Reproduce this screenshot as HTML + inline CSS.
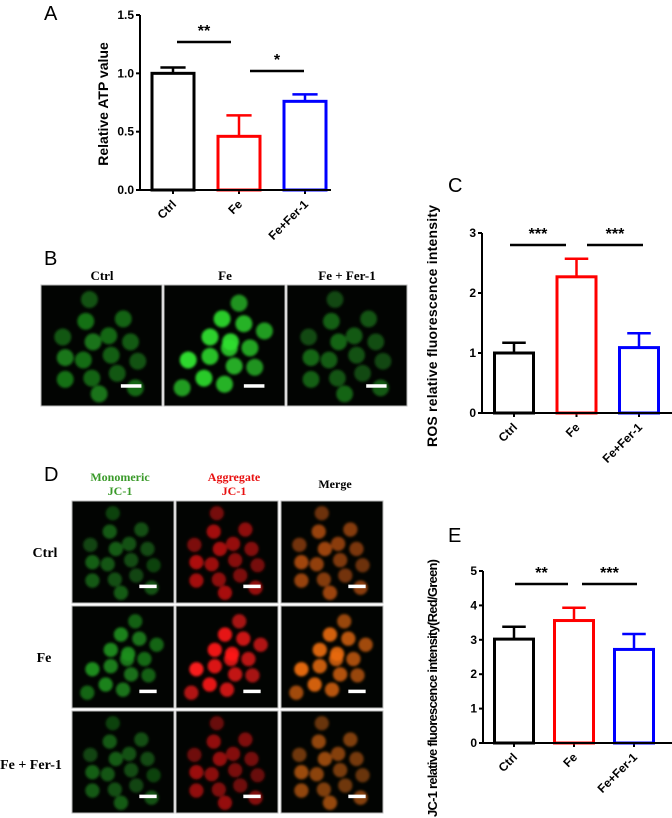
<!DOCTYPE html>
<html><head><meta charset="utf-8"><style>
html,body{margin:0;padding:0;background:#fff;}
svg{display:block;font-family:"Liberation Sans",sans-serif;}
.tick{font-size:12px;font-weight:bold;fill:#000;}
.lbl{font-size:20px;fill:#000;}
.ser{font-family:"Liberation Serif",serif;font-weight:bold;font-size:12px;}
</style></head><body>
<svg id="fig" width="672" height="818" viewBox="0 0 672 818">
<defs>
<filter id="blur" x="-20%" y="-20%" width="140%" height="140%"><feGaussianBlur stdDeviation="1.3"/></filter>
</defs>
<text class="lbl" x="44" y="20">A</text>
<text class="lbl" x="44" y="265">B</text>
<text class="lbl" x="448" y="192">C</text>
<text class="lbl" x="44" y="481">D</text>
<text class="lbl" x="448" y="542">E</text>
<g id="charts"></g>
<g id="micro"></g>
</svg>
<script>
const categories = ["Ctrl","Fe","Fe+Fer-1"];
const atpMeans = [1.0, 0.46, 0.76];
const atpErr = [0.05, 0.18, 0.06];
const atpTicks = ["0.0","0.5","1.0","1.5"];
const atpTickVals = [0,0.5,1.0,1.5];
const rosMeans = [1.0, 2.27, 1.09];
const rosErr = [0.17, 0.30, 0.24];
const rosTickVals = [0,1,2,3];
const jcMeans = [3.02, 3.56, 2.72];
const jcErr = [0.36, 0.37, 0.45];
const jcTickVals = [0,1,2,3,4,5];
const colors = ["#000","#f00","#00f"];

const NS = "http://www.w3.org/2000/svg";
function mk(tag, attrs, parent){const e=document.createElementNS(NS,tag);for(const k in attrs)e.setAttribute(k,attrs[k]);parent.appendChild(e);return e;}
const charts = document.getElementById('charts');

function barChart(cfg){
  const g = mk('g',{},charts);
  
  
  const y = v => cfg.y0 - (v - 0) / cfg.max * (cfg.y0 - cfg.yTop);
  const x = i => cfg.c0 + i * cfg.step;
  const ax = mk('path',{d:`M${cfg.x0},${cfg.yTop} V${cfg.y0} H${cfg.xEnd}`,stroke:'#000','stroke-width':2,fill:'none'},g);
  
  
  cfg.ticks.forEach((t,i)=>{
    mk('line',{x1:cfg.x0-4,x2:cfg.x0,y1:y(t),y2:y(t),stroke:'#000','stroke-width':2},g);
    const tx = mk('text',{x:cfg.x0-6,y:y(t)+4,'text-anchor':'end',class:'tick'},g);
    tx.textContent = cfg.labels ? cfg.labels[i] : String(t);
    
    
  });
  categories.forEach((c,i)=>{
    const cx = x(i);
    mk('line',{x1:cx,x2:cx,y1:cfg.y0,y2:cfg.y0+4,stroke:'#000','stroke-width':2},g);
    const top = y(cfg.means[i]), et = y(cfg.means[i]+cfg.err[i]);
    mk('line',{x1:cx,x2:cx,y1:top,y2:et,stroke:colors[i],'stroke-width':2.5},g);
    mk('line',{x1:cx-cfg.bw*0.28,x2:cx+cfg.bw*0.28,y1:et,y2:et,stroke:colors[i],'stroke-width':2.5},g);
    const r = mk('rect',{x:cx-cfg.bw/2+1.5,y:top,width:cfg.bw-3,height:cfg.y0-top,fill:'#fff',stroke:colors[i],'stroke-width':3},g);
    
    
    const t = mk('text',{x:cx+4,y:cfg.y0+15,'text-anchor':'end',class:'tick',transform:`rotate(-45 ${cx+4} ${cfg.y0+15})`},g);
    t.textContent = c;
    
    
  });
  mk('path',{d:`M${cfg.x0},${cfg.y0} H${cfg.xEnd}`,stroke:'#000','stroke-width':2},g);
  cfg.sig.forEach(s=>{
    mk('line',{x1:s[0],x2:s[1],y1:s[2],y2:s[2],stroke:'#000','stroke-width':2.5},g);
    const st = mk('text',{x:(s[0]+s[1])/2,y:s[2]-6,'text-anchor':'middle',style:'font-size:16px;font-weight:bold'},g);
    st.textContent = s[3];
    
    
  });
  const tt = mk('text',{x:0,y:0,'text-anchor':'middle',style:`font-size:${cfg.tfs}px;font-weight:bold`,transform:`translate(${cfg.tx},${cfg.ty}) rotate(-90)`},g);
  if(cfg.tl) tt.setAttribute('textLength',cfg.tl);
  tt.textContent = cfg.title;
  
  
}
barChart({name:'atp-chart',x0:140,y0:190,yTop:15,max:1.5,xEnd:331,c0:173,step:66,bw:45,means:atpMeans,err:atpErr,ticks:atpTickVals,labels:atpTicks,
  sig:[[177,231,42,'**'],[250,304,71,'*']],title:'Relative ATP value',tx:108,ty:104,tfs:14});
barChart({name:'ros-chart',x0:482,y0:413,yTop:233,max:3,xEnd:672,c0:514,step:62.5,bw:42,means:rosMeans,err:rosErr,ticks:rosTickVals,
  sig:[[510,566,245,'***'],[587,643,245,'***']],title:'ROS relative fluorescence intensity',tx:437,ty:326,tfs:14,tl:242});
barChart({name:'jc1-chart',x0:483,y0:743,yTop:571,max:5,xEnd:672,c0:514,step:60,bw:42,means:jcMeans,err:jcErr,ticks:jcTickVals,
  sig:[[515,568,584,'**'],[582,637,584,'***']],title:'JC-1 relative fluorescence intensity(Red/Green)',tx:437,ty:688,tfs:13,tl:258});

const micro = document.getElementById('micro');
const cellsA = [[.4,.12],[.37,.3],[.68,.28],[.18,.43],[.43,.47],[.56,.42],[.74,.47],[.2,.6],[.35,.62],[.58,.58],[.8,.63],[.2,.78],[.42,.77],[.63,.73],[.48,.9],[.78,.85]];
const cellsB = [[.62,.15],[.48,.28],[.66,.32],[.83,.38],[.38,.43],[.54,.52],[.71,.52],[.2,.62],[.38,.59],[.58,.67],[.75,.68],[.33,.77],[.5,.82],[.15,.85],[.55,.47]];
function panel(x,y,w,h,cells,col,bright,name){
  const g = mk('g',{},micro);
  
  
  mk('rect',{x:x,y:y,width:w,height:h,fill:'#020402',stroke:'#bbb','stroke-width':1},g);
  const cg = mk('g',{filter:'url(#blur)'},g);
  const r = w*0.07;
  cells.forEach((c,i)=>{
    const o = (0.65+0.35*((i*37)%10)/10)*bright;
    mk('circle',{cx:x+c[0]*w,cy:y+c[1]*h,r:r,fill:col,opacity:o.toFixed(2)},cg);
  });
  mk('rect',{x:x+w*0.66,y:y+h*0.82,width:w*0.17,height:3.5,fill:'#fff'},g);
}
panel(41,285,121,121,cellsA,'#1f9a1f',0.8,'ctrl-ros-image');
panel(164,285,121,121,cellsB,'#2fe02f',1,'fe-ros-image');
panel(287,285,120,121,cellsA,'#1e8c1e',0.75,'fer1-ros-image');
const cols = [72,176,281], rows=[501,606,711];
const dcol = [['#1b7a1b','#e01010','#d05a10'],['#1e901e','#ff1a1a','#e86a10'],['#1b7a1b','#c81010','#c86010']];
rows.forEach((ry,ri)=>cols.forEach((cx,ci)=>{
  panel(cx,ry,102,102,ri==1?cellsB:cellsA,dcol[ri][ci],ri==1?1:0.8,'jc1-image-r'+(ri+1)+'-c'+(ci+1));
}));
function txt(x,y,s,fill,anchor,name,fs){const t=mk('text',{x:x,y:y,class:'ser',fill:fill,'text-anchor':anchor||'middle'},micro);t.textContent=s;
  if(fs) t.setAttribute('style','font-size:'+fs+'px');
  
  }
txt(102,280,'Ctrl','#000','middle','b-col-ctrl',13);
txt(225,280,'Fe','#000','middle','b-col-fe',13);
txt(347,280,'Fe +  Fer-1','#000','middle','b-col-fer1',13);
txt(120,481,'Monomeric','#3a9a2a','middle','d-col-monomeric');
txt(120,495,'JC-1','#3a9a2a','middle','d-col-monomeric-2');
txt(234,481,'Aggregate','#e81010','middle','d-col-aggregate');
txt(234,495,'JC-1','#e81010','middle','d-col-aggregate-2');
txt(335,488,'Merge','#000','middle','d-col-merge');
const rl=[[45,557,'Ctrl'],[44,662,'Fe'],[31,769,'Fe + Fer-1']];
rl.forEach(r=>{const t=mk('text',{x:r[0],y:r[1],class:'ser',style:'font-size:14px','text-anchor':'middle'},micro);t.textContent=r[2];
  
  });
</script>
</body></html>
